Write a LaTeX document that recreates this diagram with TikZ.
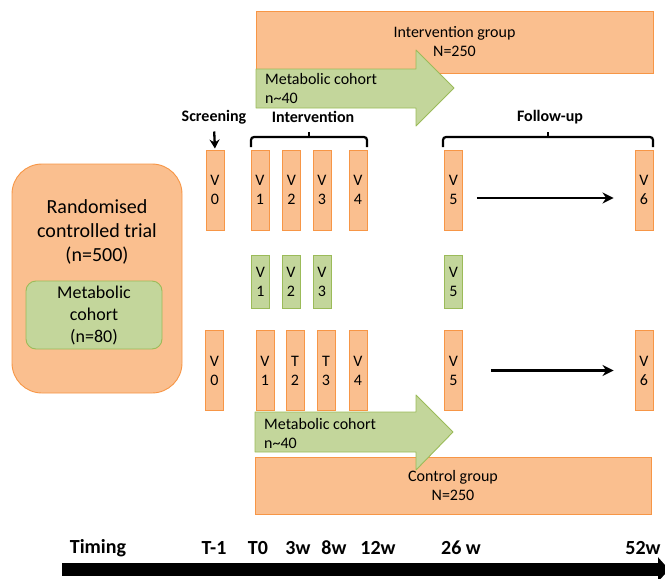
\documentclass[tikz,border=0pt]{standalone}
\usepackage{fontspec}
\setmainfont{Carlito}
\usepackage{tikz}
\usetikzlibrary{arrows.meta}
\definecolor{oranye}{HTML}{FABF8F}
\definecolor{oranyetepi}{HTML}{F79646}
\definecolor{hijau}{HTML}{C3D69B}
\definecolor{hijautepi}{HTML}{9BBB59}

\begin{document}
\begin{tikzpicture}[x=1pt, y=-1pt,
    font=\fontsize{16}{19}\selectfont,
    kunjungan/.style={draw=oranyetepi, fill=oranye, align=center, inner sep=0pt,
                      minimum width=18pt, minimum height=80pt, line width=0.9pt},
    kunjhijau/.style={kunjungan, draw=hijautepi, fill=hijau, minimum height=53pt},
    kelompok/.style={draw=oranyetepi, fill=oranye, align=center, inner sep=0pt,
                     line width=0.9pt},
    kohort/.style={draw=hijautepi, fill=hijau, line join=round, line width=0.9pt},
    panah/.style={-{Stealth[length=11pt, width=11pt]}, line width=2.3pt},
    kurung/.style={line width=2.2pt, rounded corners=3pt},
    judul/.style={font=\fontsize{16}{19}\selectfont\bfseries},
    waktu/.style={font=\fontsize{20}{24}\selectfont\bfseries}
  ]
    \useasboundingbox (0,0) rectangle (665,579);

    % kelompok intervensi
    \node[kelompok, minimum width=397pt, minimum height=62pt] (intervensi) at (454.5,42)
      {Intervention group\\N=250};
    \filldraw[kohort] (256,69) -- (416,69) -- (416,50) -- (454,88) -- (416,126)
      -- (416,108) -- (256,108) -- cycle;
    \node[anchor=west, align=left, inner sep=0pt] (kohortatas) at (265,88)
      {Metabolic cohort\\n\textasciitilde40};

    % label fase
    \node[judul] (skrining) at (214,117) {Screening};
    \node[judul] (fasei) at (313,117) {Intervention};
    \node[judul] (fasef) at (550,117) {Follow-up};
    \draw[kurung] (251,147) -- (251,137) -- (367,137) -- (367,147);
    \draw[kurung] (309,137) -- (309,132);
    \draw[kurung] (443,147) -- (443,137) -- (653,137) -- (653,147);
    \draw[kurung] (548,137) -- (548,132);

    % baris atas
    \node[kunjungan] (av0) at (215,190) {V\\0};
    \node[kunjungan] (av1) at (260,190) {V\\1};
    \node[kunjungan] (av2) at (291.5,190) {V\\2};
    \node[kunjungan] (av3) at (322,190) {V\\3};
    \node[kunjungan] (av4) at (358,190) {V\\4};
    \node[kunjungan] (av5) at (453.5,190) {V\\5};
    \node[kunjungan] (av6) at (644,190) {V\\6};
    \draw[panah, -{Stealth[length=9pt, width=10pt]}, shorten <=4pt, shorten >=1pt]
      (skrining.south) -- (av0.north);
    \draw[panah, shorten <=14pt, shorten >=21pt]
      ([yshift=-8pt]av5.east) -- ([yshift=-8pt]av6.west);

    % baris tengah
    \node[kunjhijau] (tv1) at (260.5,281.5) {V\\1};
    \node[kunjhijau] (tv2) at (291,281.5) {V\\2};
    \node[kunjhijau] (tv3) at (322,281.5) {V\\3};
    \node[kunjhijau] (tv5) at (453.5,281.5) {V\\5};

    % baris bawah
    \node[kunjungan] (bv0) at (214.5,370.5) {V\\0};
    \node[kunjungan] (bv1) at (265,370.5) {V\\1};
    \node[kunjungan] (bt2) at (295,370.5) {T\\2};
    \node[kunjungan] (bt3) at (326,370.5) {T\\3};
    \node[kunjungan] (bv4) at (358,370.5) {V\\4};
    \node[kunjungan] (bv5) at (453.5,370.5) {V\\5};
    \node[kunjungan] (bv6) at (644,370.5) {V\\6};
    \draw[panah, shorten <=28pt, shorten >=21pt] (bv5) -- (bv6);

    % kelompok kontrol
    \node[kelompok, minimum width=396pt, minimum height=57pt] (kontrol) at (453,485.5)
      {Control group\\N=250};
    \filldraw[kohort] (255,412) -- (416,412) -- (416,395) -- (453,432) -- (416,470)
      -- (416,452) -- (255,452) -- cycle;
    \node[anchor=west, align=left, inner sep=0pt] (kohortbawah) at (264,433)
      {Metabolic cohort\\n\textasciitilde40};

    % uji acak
    \node[kelompok, rounded corners=30pt, minimum width=170pt, minimum height=229pt]
      (rct) at (97,278.5) {};
    \node[align=center, font=\fontsize{20}{24}\selectfont] (rctteks) at (97,232)
      {Randomised\\controlled trial\\(n=500)};
    \node[kohort, rounded corners=10pt, align=center, inner sep=0pt,
          minimum width=136pt, minimum height=68pt, font=\fontsize{18}{22}\selectfont]
      (metabolik) at (94,315) {Metabolic\\cohort\\(n=80)};

    % garis waktu
    \node[waktu] (wtiming) at (98,548) {Timing};
    \node[waktu] (wt1) at (214,548) {T-1};
    \node[waktu] (wt0) at (258,548) {T0};
    \node[waktu] (w3) at (298,548) {3w};
    \node[waktu] (w8) at (334,548) {8w};
    \node[waktu] (w12) at (378,548) {12w};
    \node[waktu] (w26) at (461,548) {26 w};
    \node[waktu] (w52) at (643,548) {52w};
    \coordinate (mulai) at (62,569.5);
    \coordinate (akhir) at (669,569.5);
    \draw[line width=13pt, -{Triangle[length=11pt, width=24pt]}] (mulai) -- (akhir);
\end{tikzpicture}
\end{document}
